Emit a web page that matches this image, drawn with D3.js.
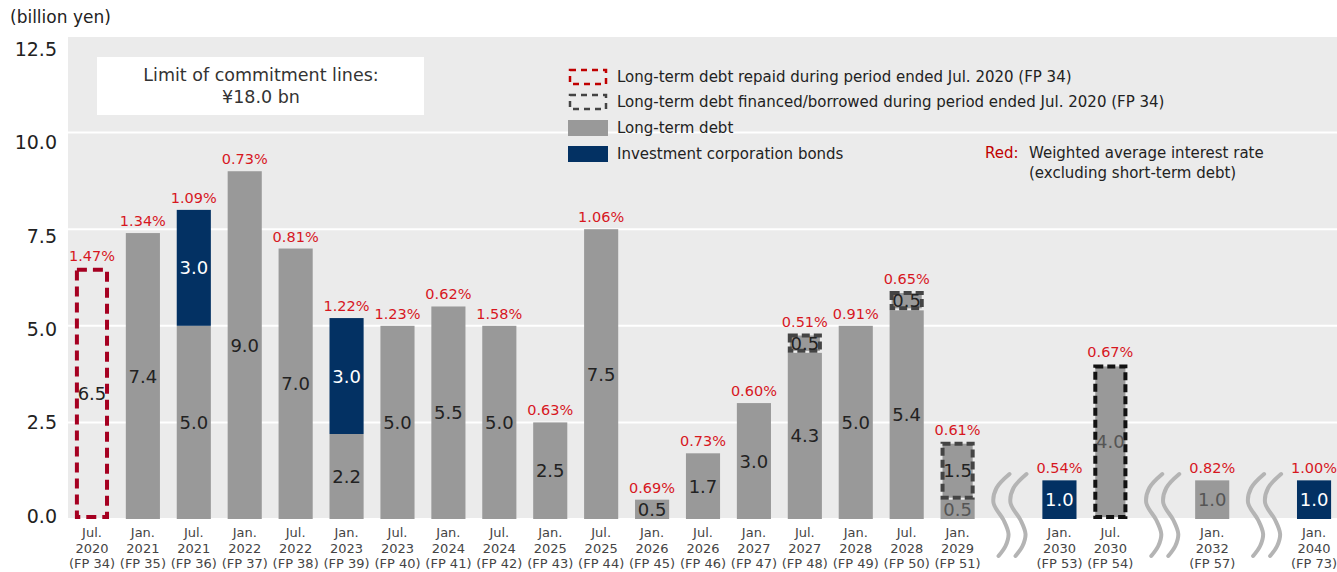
<!DOCTYPE html>
<html>
<head>
<meta charset="utf-8">
<script src="https://cdn.jsdelivr.net/npm/d3@7"></script>
<style>
  body { margin: 0; background: #fff; }
  svg { display: block; font-family: "DejaVu Sans", sans-serif; }
</style>
</head>
<body>
<svg id="chart"></svg>
<script>
// Debt maturity ladder (billion yen)
const categories = ["FP 34", "FP 35", "FP 36", "FP 37", "FP 38", "FP 39", "FP 40", "FP 41", "FP 42",
    "FP 43", "FP 44", "FP 45", "FP 46", "FP 47", "FP 48", "FP 49", "FP 50", "FP 51", "gap1",
    "FP 53", "FP 54", "gap2", "FP 57", "gap3", "FP 73"];
const breaks = ["gap1", "gap2", "gap3"];
const months = ["Jul.", "Jan.", "Jul.", "Jan.", "Jul.", "Jan.", "Jul.", "Jan.", "Jul.",
    "Jan.", "Jul.", "Jan.", "Jul.", "Jan.", "Jul.", "Jan.", "Jul.", "Jan.", "",
    "Jan.", "Jul.", "", "Jan.", "", "Jan."];
const years = ["2020", "2021", "2021", "2022", "2022", "2023", "2023", "2024", "2024",
    "2025", "2025", "2026", "2026", "2027", "2027", "2028", "2028", "2029", "",
    "2030", "2030", "", "2032", "", "2040"];

const repaid   = [6.5, 0, 0, 0, 0, 0, 0, 0, 0, 0, 0, 0, 0, 0, 0, 0, 0, 0, 0, 0, 0, 0, 0, 0, 0];
const longTerm = [0, 7.4, 5.0, 9.0, 7.0, 2.2, 5.0, 5.5, 5.0, 2.5, 7.5, 0.5, 1.7, 3.0, 4.3, 5.0, 5.4, 0.5, 0, 0, 0, 0, 1.0, 0, 0];
const bonds    = [0, 0, 3.0, 0, 0, 3.0, 0, 0, 0, 0, 0, 0, 0, 0, 0, 0, 0, 0, 0, 1.0, 0, 0, 0, 0, 1.0];
const newDebt  = [0, 0, 0, 0, 0, 0, 0, 0, 0, 0, 0, 0, 0, 0, 0.5, 0, 0.5, 1.5, 0, 0, 4.0, 0, 0, 0, 0];
const rates    = [1.47, 1.34, 1.09, 0.73, 0.81, 1.22, 1.23, 0.62, 1.58, 0.63, 1.06, 0.69, 0.73, 0.60,
    0.51, 0.91, 0.65, 0.61, null, 0.54, 0.67, null, 0.82, null, 1.00];
const yTicks = [0, 2.5, 5, 7.5, 10, 12.5];

const legendItems = [
    { key: "repaid", label: "Long-term debt repaid during period ended Jul. 2020 (FP 34)" },
    { key: "newDebt", label: "Long-term debt financed/borrowed during period ended Jul. 2020 (FP 34)" },
    { key: "longTerm", label: "Long-term debt" },
    { key: "bonds", label: "Investment corporation bonds" },
];

const W = 1337, H = 572;
const plot = { left: 68, right: 1337, top: 36, bottom: 519 };

const svg = d3.select("#chart").attr("width", W).attr("height", H);

const x = d3.scaleBand()
    .domain(categories)
    .range([66.5, 1339.5])
    .paddingInner(0.33)
    .paddingOuter(0.165);

const y = d3.scaleLinear().domain([0, 12.5]).range([plot.bottom, plot.top]);
// tick labels sit on a slightly tighter spacing than the gridlines
const yLabel = d3.scaleLinear().domain([0, 12.5]).range([515.5, 48.5]);

// Plot background
svg.append("rect")
    .attr("x", plot.left).attr("y", plot.top)
    .attr("width", plot.right - plot.left).attr("height", plot.bottom - plot.top)
    .attr("fill", "#ebebeb");

// Gridlines
svg.append("g")
    .selectAll("line")
    .data(yTicks)
    .join("line")
    .attr("x1", plot.left).attr("x2", plot.right)
    .attr("y1", d => y(d)).attr("y2", d => y(d))
    .attr("stroke", "#fff").attr("stroke-width", 2);

// Y axis labels
const yAxis = svg.append("g")
    .attr("transform", `translate(${plot.left - 8},0)`)
    .call(d3.axisLeft(yLabel).tickValues(yTicks).tickFormat(d3.format(".1f")).tickSize(0));
yAxis.select(".domain").remove();
yAxis.selectAll("text")
    .attr("font-family", "DejaVu Sans, sans-serif")
    .attr("font-size", 19)
    .attr("fill", "#222")
    .attr("dy", "0.36em");

svg.append("text")
    .attr("x", 10).attr("y", 23)
    .attr("font-size", 17).attr("fill", "#222")
    .text("(billion yen)");

// Commitment line box
svg.append("rect")
    .attr("x", 97).attr("y", 57).attr("width", 327).attr("height", 58)
    .attr("fill", "#fff");
svg.append("text")
    .attr("x", 261).attr("y", 81)
    .attr("text-anchor", "middle").attr("font-size", 17.5).attr("fill", "#333")
    .text("Limit of commitment lines:");
svg.append("text")
    .attr("x", 261).attr("y", 103)
    .attr("text-anchor", "middle").attr("font-size", 17.5).attr("fill", "#333")
    .text("¥18.0 bn");

// Stacked data
const rows = categories.map((c, i) => ({
    cat: c, repaid: repaid[i], longTerm: longTerm[i], bonds: bonds[i], newDebt: newDebt[i]
})).filter(d => !breaks.includes(d.cat));

const keys = ["repaid", "longTerm", "bonds", "newDebt"];
const series = d3.stack().keys(keys)(rows);

const style = {
    repaid:   { fill: "none", stroke: "#a50021", dash: "10,6", text: "#222" },
    longTerm: { fill: "#999999", stroke: "none", dash: null, text: "#222" },
    bonds:    { fill: "#033163", stroke: "none", dash: null, text: "#fff" },
    newDebt:  { fill: "#999999", stroke: "#444", dash: "8,4", text: "#222" },
};

const bars = svg.append("g");
series.forEach(s => {
    const st = style[s.key];
    const segs = s.filter(d => d[1] - d[0] > 0);
    const inset = st.stroke !== "none" ? 2 : 0;
    bars.append("g")
        .selectAll("rect")
        .data(segs)
        .join("rect")
        .attr("x", d => x(d.data.cat) + inset)
        .attr("y", d => y(d[1]) + inset)
        .attr("width", d => x.bandwidth() - inset * 2)
        .attr("height", d => y(d[0]) - y(d[1]) - inset * 2)
        .attr("fill", st.fill)
        .attr("stroke", d => s.key === "newDebt" && d.data.cat === "FP 54" ? "#111" : st.stroke)
        .attr("stroke-width", inset * 2)
        .attr("stroke-dasharray", st.dash);
});

// Value labels
const valueLabels = svg.append("g");
series.forEach(s => {
    const st = style[s.key];
    const segs = s.filter(d => d[1] - d[0] > 0);
    valueLabels.append("g")
        .selectAll("text")
        .data(segs)
        .join("text")
        .attr("x", d => x(d.data.cat) + x.bandwidth() / 2)
        .attr("y", d => (y(d[0]) + y(d[1])) / 2)
        .attr("dy", "0.36em")
        .attr("text-anchor", "middle")
        .attr("font-size", 18)
        .attr("fill", d => (s.key === "newDebt" && d.data.cat === "FP 54") ||
            (s.key === "longTerm" && (d.data.cat === "FP 57" || d.data.cat === "FP 51")) ? "#555" : st.text)
        .text(d => d3.format(".1f")(d[1] - d[0]));
});

// Interest rate labels
const totals = categories.map((c, i) => repaid[i] + longTerm[i] + bonds[i] + newDebt[i]);
svg.append("g")
    .selectAll("text")
    .data(categories.map((c, i) => ({ cat: c, rate: rates[i], total: totals[i] })).filter(d => d.rate != null))
    .join("text")
    .attr("x", d => x(d.cat) + x.bandwidth() / 2)
    .attr("y", d => y(d.total) - 7)
    .attr("text-anchor", "middle")
    .attr("font-size", 14.5)
    .attr("fill", "#d7171f")
    .text(d => d3.format(".2f")(d.rate) + "%");

// X axis labels
const xLabels = svg.append("g")
    .selectAll("text")
    .data(categories.map((c, i) => ({ cat: c, m: months[i], yr: years[i] })).filter(d => !breaks.includes(d.cat)))
    .join("text")
    .attr("text-anchor", "middle")
    .attr("font-size", 13)
    .attr("fill", "#444")
    .attr("transform", d => `translate(${x(d.cat) + x.bandwidth() / 2},537)`);
xLabels.append("tspan").attr("x", 0).attr("dy", 0).text(d => d.m);
xLabels.append("tspan").attr("x", 0).attr("dy", 15.5).text(d => d.yr);
xLabels.append("tspan").attr("x", 0).attr("dy", 15.5).text(d => `(${d.cat})`);

// Axis break symbols
const wave = d3.line().curve(d3.curveCatmullRom.alpha(0.5));
const wavePts = [[7, 474], [-6, 488], [-9, 503], [1, 520], [6, 534], [3, 546], [-4, 556]];
breaks.forEach(b => {
    const cx = x(b) + x.bandwidth() / 2 - 6;
    [0, 17].forEach(off => {
        svg.append("path")
            .attr("d", wave(wavePts.map(p => [cx + off + p[0], p[1]])))
            .attr("fill", "none")
            .attr("stroke", "#b4b4b4")
            .attr("stroke-width", 4)
            .attr("stroke-linecap", "round");
    });
});

// Legend
const legend = svg.append("g").attr("transform", "translate(568,0)");
const legendY = [77, 102, 128, 154];
legendItems.forEach((item, i) => {
    const st = style[item.key];
    const g = legend.append("g").attr("transform", `translate(0,${legendY[i]})`);
    if (item.key === "repaid" || item.key === "newDebt") {
        g.append("rect")
            .attr("x", 2).attr("y", -7).attr("width", 36).attr("height", 14)
            .attr("fill", "none")
            .attr("stroke", item.key === "repaid" ? "#c00000" : "#444")
            .attr("stroke-width", 2.5)
            .attr("stroke-dasharray", "6,5");
    } else {
        g.append("rect")
            .attr("x", 0).attr("y", -8).attr("width", 40).attr("height", 16)
            .attr("fill", st.fill);
    }
    g.append("text")
        .attr("x", 49).attr("dy", "0.35em")
        .attr("font-size", 15).attr("fill", "#222")
        .text(item.label);
});

const note = svg.append("g").attr("transform", "translate(985,153)");
note.append("text").attr("dy", "0.35em").attr("font-size", 15).attr("fill", "#c00000").text("Red:");
note.append("text").attr("x", 44).attr("dy", "0.35em").attr("font-size", 15).attr("fill", "#222")
    .text("Weighted average interest rate");
note.append("text").attr("x", 44).attr("y", 20).attr("dy", "0.35em").attr("font-size", 15).attr("fill", "#222")
    .text("(excluding short-term debt)");
</script>
</body>
</html>
